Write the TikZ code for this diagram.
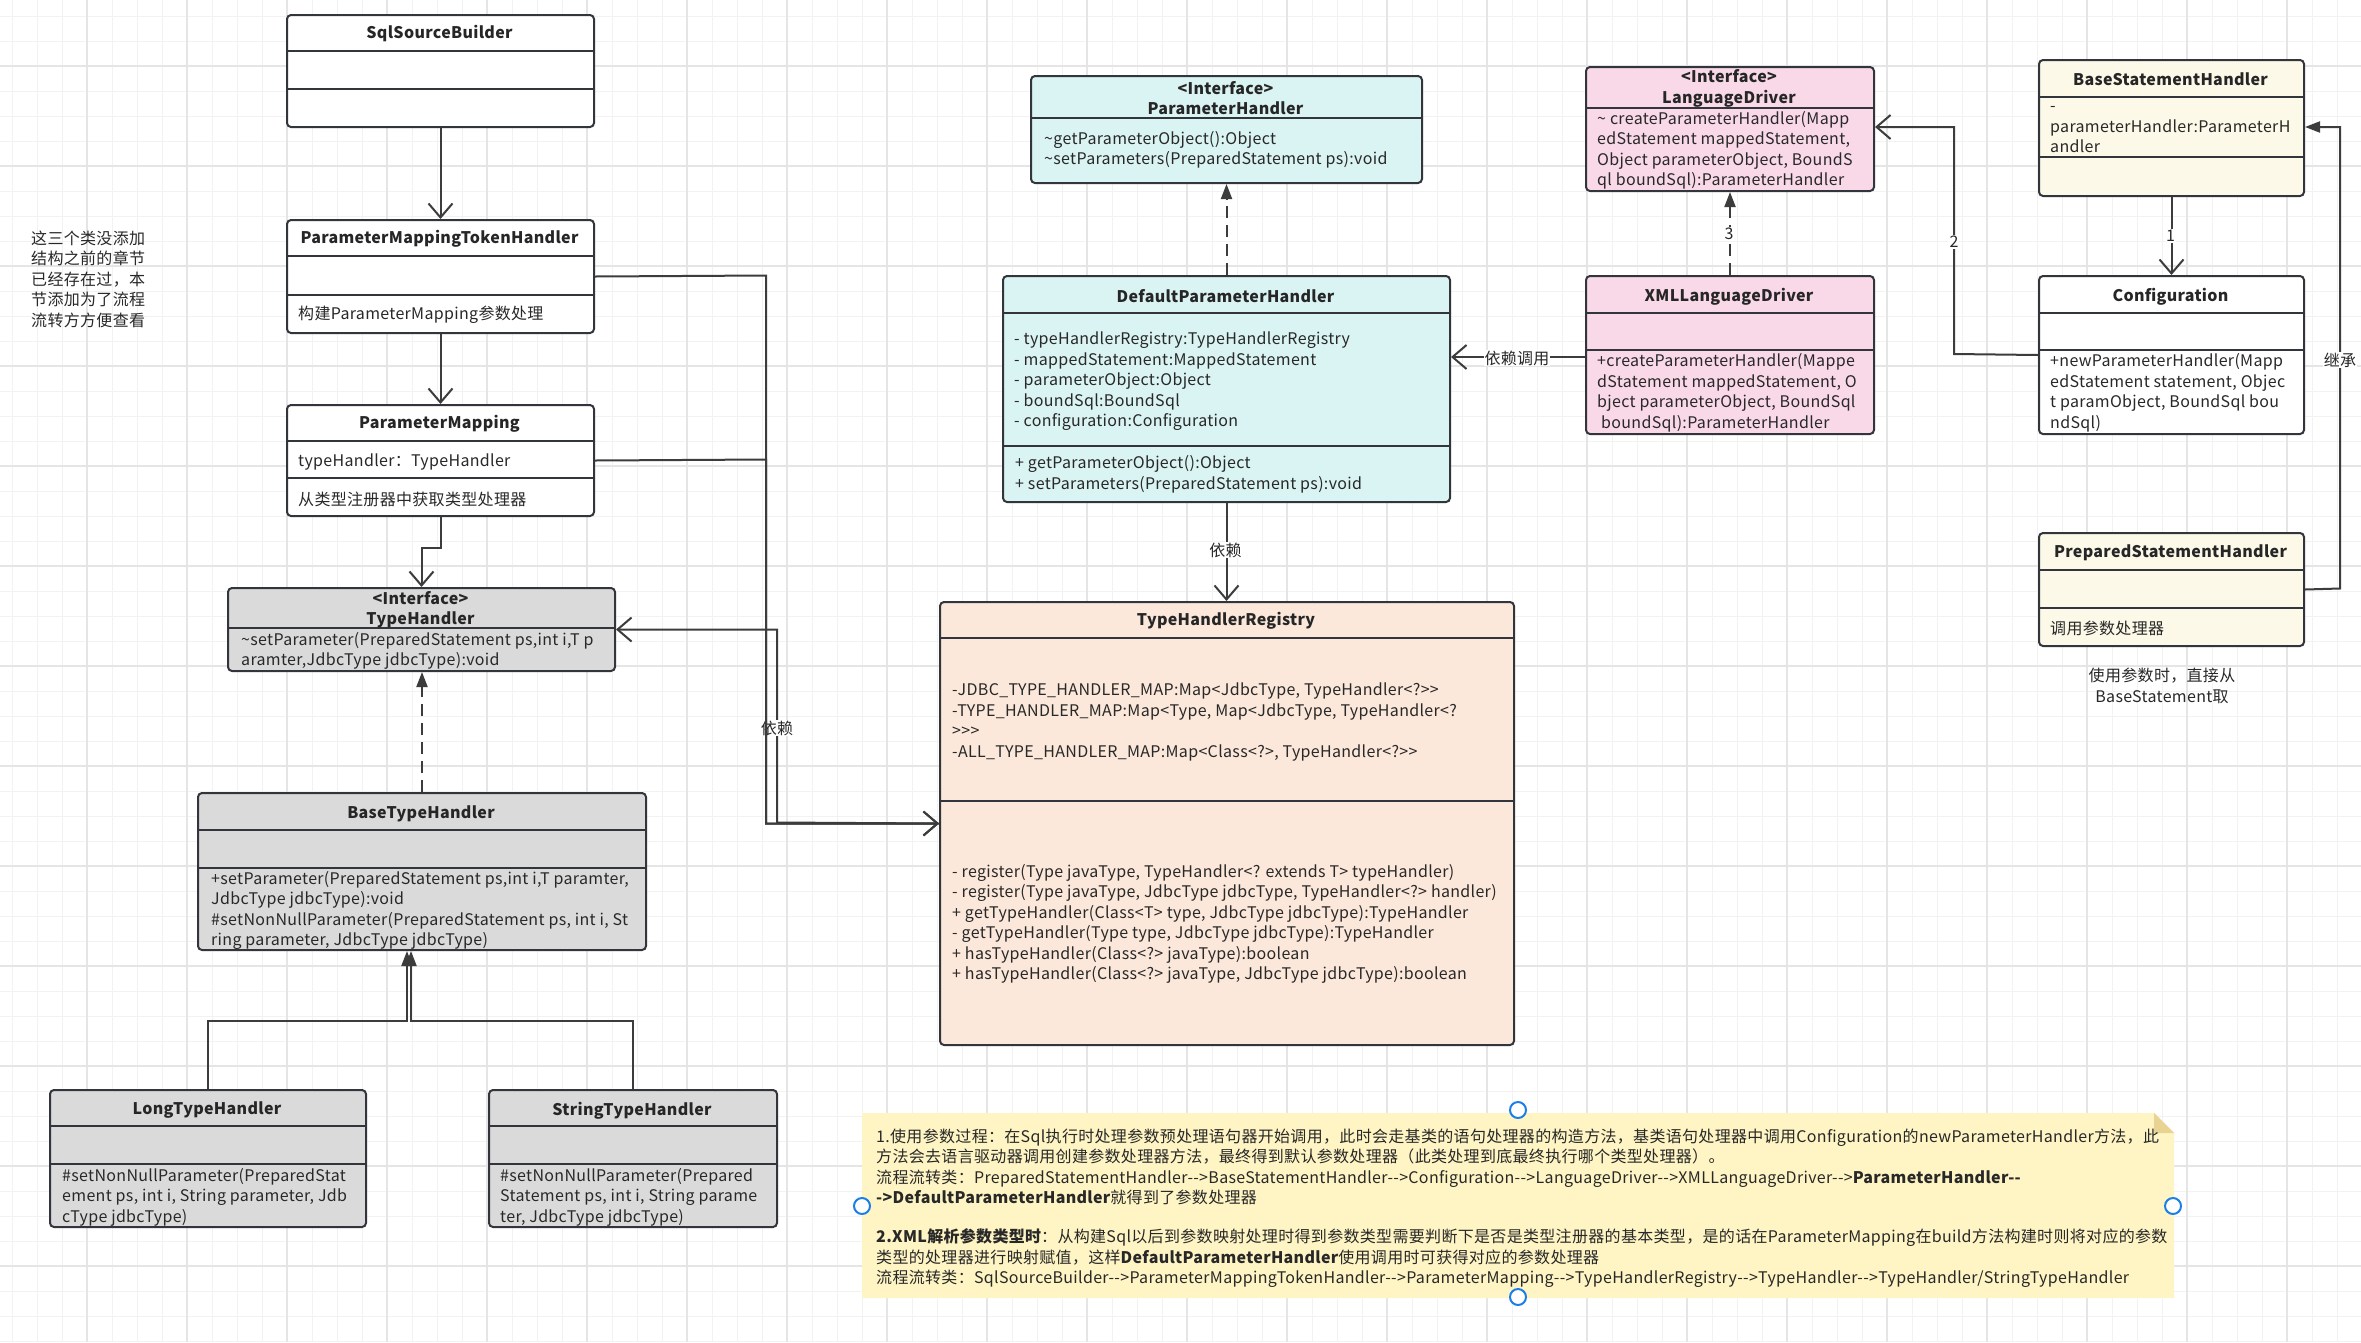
\documentclass[tikz,border=0pt]{standalone}
\usepackage{fontspec}
\newfontfamily\nf{Noto Sans CJK SC}[LetterSpace=2]
\usetikzlibrary{arrows.meta,calc}
\definecolor{stroke}{RGB}{50,54,60}
\definecolor{ln}{RGB}{60,60,60}
\definecolor{txt}{RGB}{40,40,40}
\definecolor{cgray}{RGB}{218,218,218}
\definecolor{ccyan}{RGB}{218,243,243}
\definecolor{cpink}{RGB}{249,217,232}
\definecolor{ccream}{RGB}{252,249,232}
\definecolor{cpeach}{RGB}{251,232,218}
\definecolor{cnote}{RGB}{255,245,196}
\definecolor{cfold}{RGB}{232,211,146}
\definecolor{chandle}{RGB}{26,127,232}
\definecolor{gminor}{RGB}{242,242,242}
\definecolor{gmajor}{RGB}{229,229,229}
\newcommand\ubox[6]{\node[umlbox, fill=#6, minimum width={#4-#2}, minimum height={#5-#3}] (#1) at (#2,#3) {};}
\newcommand\hdiv[3]{\draw[divline] (#1,#3) -- (#2,#3);}
\begin{document}
\begin{tikzpicture}[x=1pt,y=-1pt,
 every node/.style={font=\nf\fontsize{16}{20.5}\selectfont, text=txt},
 umlbox/.style={draw=stroke, line width=2pt, rounded corners=4pt, inner sep=0pt, anchor=north west},
 divline/.style={draw=stroke, line width=2pt},
 ttl/.style={font=\nf\bfseries\fontsize{16}{20.5}\selectfont, align=center, inner sep=0pt, text=black!85, yshift=-1.5pt},
 body/.style={align=left, anchor=west, inner sep=0pt, yshift=-2pt},
 conn/.style={draw=ln, line width=2pt},
 openarrow/.style={conn, -{Straight Barb[length=14pt,width=24pt]}},
 realize/.style={conn, dash pattern=on 12pt off 7pt, -{Triangle[length=15pt,width=11pt]}},
 inherit/.style={conn, -{Triangle[length=15pt,width=11pt]}},
 lbl/.style={fill=white, inner sep=1pt},
 handle/.style={draw=chandle, line width=2pt, fill=white},
]
\useasboundingbox (0,0) rectangle (2361,1342);
\fill[white] (0,0) rectangle (2361,1342);
% grid
\foreach \i in {0,...,94} \draw[gminor, line width=1pt] (12+25*\i,0) -- (12+25*\i,1342);
\foreach \i in {0,...,53} \draw[gminor, line width=1pt] (0,16+25*\i) -- (2361,16+25*\i);
\foreach \i in {0,...,22} \draw[gmajor, line width=1.6pt] (87+100*\i,0) -- (87+100*\i,1342);
\foreach \i in {0,...,12} \draw[gmajor, line width=1.6pt] (0,66+100*\i) -- (2361,66+100*\i);

% ---------- boxes ----------
\ubox{ssb}{286}{14}{593}{126}{white}
\hdiv{286}{593}{51}\hdiv{286}{593}{89}
\node[ttl] (tssb) at (439.5,32) {SqlSourceBuilder};

\ubox{pmth}{286}{219}{593}{332}{white}
\hdiv{286}{593}{256}\hdiv{286}{593}{295}
\node[ttl] (tpmth) at (439.5,237) {ParameterMappingTokenHandler};
\node[body] (bpmth) at (298,313) {构建ParameterMapping参数处理};

\ubox{pm}{286}{404}{593}{515}{white}
\hdiv{286}{593}{441}\hdiv{286}{593}{478}
\node[ttl] (tpm) at (439.5,422) {ParameterMapping};
\node[body] (bpm1) at (298,460) {typeHandler：TypeHandler};
\node[body] (bpm2) at (298,497) {从类型注册器中获取类型处理器};

\ubox{th}{227}{587}{614}{670}{cgray}
\hdiv{227}{614}{628}
\node[ttl] (tth) at (420.5,608) {<Interface>\\TypeHandler};
\node[body] (bth1) at (241,649) {\textasciitilde setParameter(PreparedStatement ps,int i,T p\\aramter,JdbcType jdbcType):void};

\ubox{bth}{197}{792}{645}{949}{cgray}
\hdiv{197}{645}{830}\hdiv{197}{645}{868}
\node[ttl] (tbth) at (421,812) {BaseTypeHandler};
\node[body] (bbth) at (211,908.5) {+setParameter(PreparedStatement ps,int i,T paramter,\\JdbcType jdbcType):void\\\#setNonNullParameter(PreparedStatement ps, int i, St\\ring parameter, JdbcType jdbcType)};

\ubox{lth}{49}{1089}{365}{1226}{cgray}
\hdiv{49}{365}{1126}\hdiv{49}{365}{1164}
\node[ttl] (tlth) at (207,1109) {LongTypeHandler};
\node[body] (blth) at (62,1195) {\#setNonNullParameter(PreparedStat\\ement ps, int i, String parameter, Jdb\\cType jdbcType)};

\ubox{sth}{488}{1089}{776}{1226}{cgray}
\hdiv{488}{776}{1126}\hdiv{488}{776}{1164}
\node[ttl] (tsth) at (632,1109) {StringTypeHandler};
\node[body] (bsth) at (500,1195) {\#setNonNullParameter(Prepared\\Statement ps, int i, String parame\\ter, JdbcType jdbcType)};

\ubox{ph}{1030}{75}{1421}{182}{ccyan}
\hdiv{1030}{1421}{118}
\node[ttl] (tph) at (1225.5,96.5) {<Interface>\\ParameterHandler};
\node[body] (bph) at (1044,148) {\textasciitilde getParameterObject():Object\\\textasciitilde setParameters(PreparedStatement ps):void};

\ubox{dph}{1002}{275}{1449}{501}{ccyan}
\hdiv{1002}{1449}{313}\hdiv{1002}{1449}{446}
\node[ttl] (tdph) at (1225.5,295) {DefaultParameterHandler};
\node[body] (adph) at (1014,379.5) {- typeHandlerRegistry:TypeHandlerRegistry\\- mappedStatement:MappedStatement\\- parameterObject:Object\\- boundSql:BoundSql\\- configuration:Configuration};
\node[body] (mdph) at (1015,472.5) {+ getParameterObject():Object\\+ setParameters(PreparedStatement ps):void};

\ubox{thr}{939}{601}{1513}{1044}{cpeach}
\hdiv{939}{1513}{638}\hdiv{939}{1513}{801}
\node[ttl] (tthr) at (1226,619) {TypeHandlerRegistry};
\node[body] (athr) at (952,720) {-JDBC\_TYPE\_HANDLER\_MAP:Map<JdbcType, TypeHandler<?>>\\-TYPE\_HANDLER\_MAP:Map<Type, Map<JdbcType, TypeHandler<?\\>>>\\-ALL\_TYPE\_HANDLER\_MAP:Map<Class<?>, TypeHandler<?>>};
\node[body] (mthr) at (952,922) {- register(Type javaType, TypeHandler<? extends T> typeHandler)\\- register(Type javaType, JdbcType jdbcType, TypeHandler<?> handler)\\+ getTypeHandler(Class<T> type, JdbcType jdbcType):TypeHandler\\- getTypeHandler(Type type, JdbcType jdbcType):TypeHandler\\+ hasTypeHandler(Class<?> javaType):boolean\\+ hasTypeHandler(Class<?> javaType, JdbcType jdbcType):boolean};

\ubox{ld}{1585}{66}{1873}{190}{cpink}
\hdiv{1585}{1873}{108}
\node[ttl] (tld) at (1729,87) {<Interface>\\LanguageDriver};
\node[body] (bld) at (1597,148.5) {\textasciitilde{} createParameterHandler(Mapp\\edStatement mappedStatement,\\Object parameterObject, BoundS\\ql boundSql):ParameterHandler};

\ubox{xld}{1585}{275}{1873}{433}{cpink}
\hdiv{1585}{1873}{313}\hdiv{1585}{1873}{350}
\node[ttl] (txld) at (1729,295) {XMLLanguageDriver};
\node[body] (bxld) at (1597,391) {+createParameterHandler(Mappe\\dStatement mappedStatement, O\\bject parameterObject, BoundSql\\\hspace*{4pt}boundSql):ParameterHandler};

\ubox{bsh}{2038}{59}{2303}{195}{ccream}
\hdiv{2038}{2303}{97}\hdiv{2038}{2303}{157}
\node[ttl] (tbsh) at (2170.5,78) {BaseStatementHandler};
\node[body] (bbsh) at (2050,128) {-\\parameterHandler:ParameterH\\andler};

\ubox{cfg}{2038}{275}{2303}{433}{white}
\hdiv{2038}{2303}{313}\hdiv{2038}{2303}{350}
\node[ttl] (tcfg) at (2170.5,295) {Configuration};
\node[body] (bcfg) at (2050,391) {+newParameterHandler(Mapp\\edStatement statement, Objec\\t paramObject, BoundSql bou\\ndSql)};

\ubox{psh}{2038}{532}{2303}{645}{ccream}
\hdiv{2038}{2303}{570}\hdiv{2038}{2303}{608}
\node[ttl] (tpsh) at (2170.5,551) {PreparedStatementHandler};
\node[body] (bpsh) at (2050,626) {调用参数处理器};

% ---------- free texts ----------
\node[body] (leftnote) at (31,277) {这三个类没添加\\结构之前的章节\\已经存在过，本\\节添加为了流程\\流转方方便查看};
\node[align=center, inner sep=0pt, yshift=-2pt] (pshnote) at (2162,684) {使用参数时，直接从\\BaseStatement取};

% ---------- connectors ----------
\draw[openarrow] (ssb.south) -- (ssb.south |- pmth.north);
\draw[openarrow] (pmth.south) -- (pmth.south |- pm.north);
\draw[openarrow] (pm.south) -- ++(0,31) -| (th.north);
\draw[openarrow] (thr.west) -- (777,822.5) |- (th.east);
\node[lbl] (ldep1) at (777,728) {依赖};
\draw[openarrow] (pmth.east) -- (766,275.5) |- (thr.west);
\draw[openarrow] (pm.east) -- (766,459.5) |- (thr.west);
\draw[realize] (bth.north) -- (bth.north |- th.south);
\draw[inherit] (lth.north) |- ($(bth.south)+(-15,70)$) -- ($(bth.south)+(-15,0)$);
\draw[inherit] (sth.north) |- ($(bth.south)+(-11,70)$) -- ($(bth.south)+(-11,0)$);
\draw[realize] (dph.north) -- (dph.north |- ph.south);
\draw[openarrow] (dph.south) -- (dph.south |- thr.north);
\node[lbl] (ldep2) at (1225.5,550) {依赖};
\draw[openarrow] (xld.west |- 0,357) -- (dph.east |- 0,357);
\node[lbl] (ldep3) at (1517,358) {依赖调用};
\draw[realize] (xld.north) -- (xld.north |- ld.south);
\node[lbl] (l3) at (1729,234) {3};
\draw[openarrow] (cfg.west) -- (1954,354) |- (ld.east |- 0,127);
\node[lbl] (l2) at (1954,242) {2};
\draw[openarrow] (bsh.south) -- (bsh.south |- cfg.north);
\node[lbl] (l1) at (2170.5,236) {1};
\draw[inherit] (psh.east) -- (2340,588.5) |- (bsh.east |- 0,127);
\node[lbl] (linh) at (2340,360) {继承};

% ---------- note ----------
\fill[cnote] (862,1113) -- (2154,1113) -- (2174,1133) -- (2174,1298) -- (862,1298) -- cycle;
\fill[cfold] (2154,1113) -- (2154,1133) -- (2174,1133) -- cycle;
\node[body] (note1) at (876,1165) {1.使用参数过程：在Sql执行时处理参数预处理语句器开始调用，此时会走基类的语句处理器的构造方法，基类语句处理器中调用Configuration的newParameterHandler方法，此\\方法会去语言驱动器调用创建参数处理器方法，最终得到默认参数处理器（此类处理到底最终执行哪个类型处理器）。\\流程流转类：PreparedStatementHandler-->BaseStatementHandler-->Configuration-->LanguageDriver-->XMLLanguageDriver-->{\bfseries ParameterHandler--}\\{\bfseries ->DefaultParameterHandler}就得到了参数处理器};
\node[body] (note2) at (876,1256.5) {{\bfseries 2.XML解析参数类型时}：从构建Sql以后到参数映射处理时得到参数类型需要判断下是否是类型注册器的基本类型，是的话在ParameterMapping在build方法构建时则将对应的参数\\类型的处理器进行映射赋值，这样{\bfseries DefaultParameterHandler}使用调用时可获得对应的参数处理器\\流程流转类：SqlSourceBuilder-->ParameterMappingTokenHandler-->ParameterMapping-->TypeHandlerRegistry-->TypeHandler-->TypeHandler/StringTypeHandler};
\draw[handle] (1518,1110) circle[radius=8pt];
\draw[handle] (862,1206) circle[radius=8pt];
\draw[handle] (2173,1206) circle[radius=8pt];
\draw[handle] (1518,1297) circle[radius=8pt];
\end{tikzpicture}
\end{document}
